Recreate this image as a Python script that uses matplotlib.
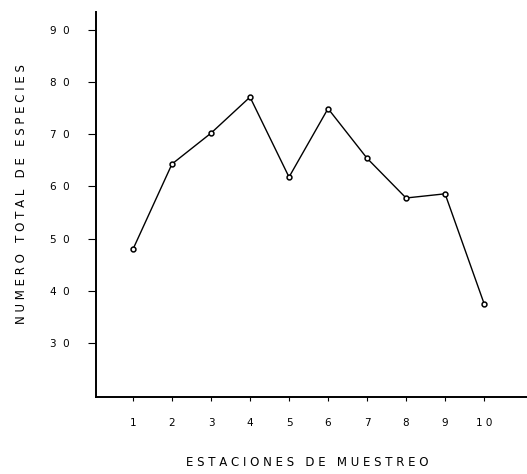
import matplotlib
matplotlib.use("Agg")
import matplotlib.pyplot as plt

# Datos
estaciones = [1, 2, 3, 4, 5, 6, 7, 8, 9, 10]
especies = [48, 64.3, 70.2, 77.1, 61.8, 74.9, 65.4, 57.8, 58.6, 37.6]

y_ticks = [30, 40, 50, 60, 70, 80, 90]
y_tick_labels = ["3  0", "4  0", "5  0", "6  0", "7  0", "8  0", "9  0"]
x_tick_labels = ["1", "2", "3", "4", "5", "6", "7", "8", "9", "1 0"]

fig = plt.figure(figsize=(5.27, 4.74), dpi=100)
ax = fig.add_axes([0.182, 0.162, 0.818, 0.813])

ax.plot(estaciones, especies, color="black", linewidth=1.0,
        marker="o", markersize=3.5, markerfacecolor="white",
        markeredgecolor="black", markeredgewidth=1.1)

ax.set_xlim(0.05, 11.1)
ax.set_ylim(19.7, 93.4)
ax.set_xticks(estaciones)
ax.set_xticklabels(x_tick_labels)
ax.set_yticks(y_ticks)
ax.set_yticklabels(y_tick_labels)

for side in ["top", "right"]:
    ax.spines[side].set_visible(False)
ax.spines["left"].set_linewidth(1.4)
ax.spines["bottom"].set_linewidth(1.4)

ax.tick_params(axis="y", direction="out", length=6, width=0.8,
               labelsize=7.5, pad=13)
ax.tick_params(axis="x", direction="out", length=3, width=0.8,
               labelsize=7.5, pad=12)

fig.text(0.04, 0.59, "N U M E R O   T O T A L   D E   E S P E C I E S",
         rotation=90, ha="center", va="center", fontsize=8.5)
fig.text(0.583, 0.025, "E S T A C I O N E S   D E   M U E S T R E O",
         ha="center", va="center", fontsize=8.5)

plt.savefig("out.png", dpi=100)
plt.close()
